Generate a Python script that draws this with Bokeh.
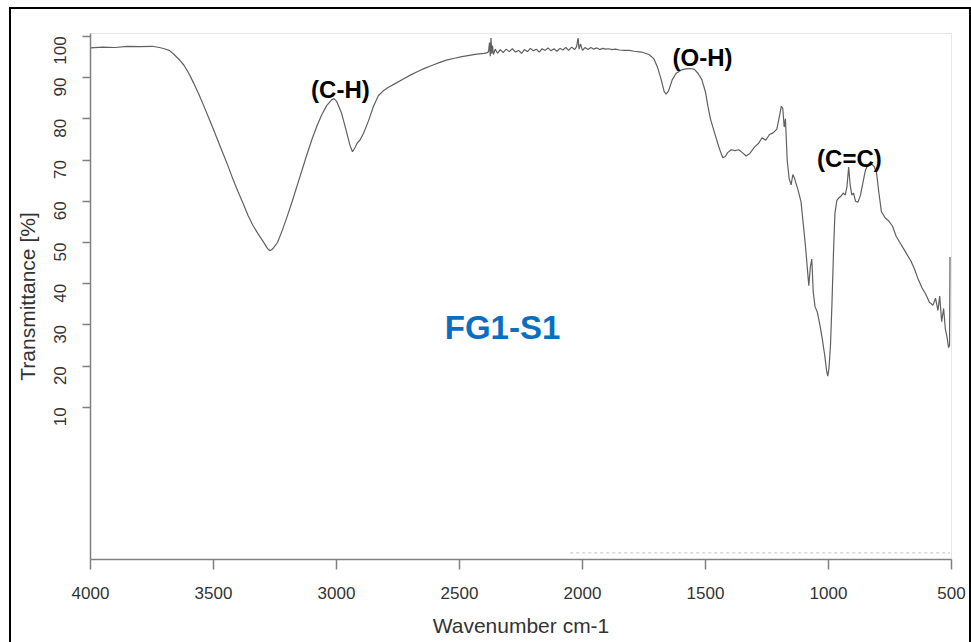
import math
from bokeh.plotting import figure
from bokeh.models import Range1d, FixedTicker, Label, ColumnDataSource
from bokeh.embed import file_html
from bokeh.resources import INLINE

# ---------------- data ----------------
wavenumber = [
    4000, 3950, 3900, 3850, 3800, 3750, 3720, 3700, 3680, 3660, 3640, 3620, 3600,
    3580, 3560, 3540, 3520, 3500, 3480, 3460, 3440, 3420, 3400, 3380, 3360, 3340,
    3320, 3300, 3280, 3270, 3260, 3240, 3220, 3200, 3180, 3160, 3140, 3120, 3100,
    3080, 3060, 3040, 3020, 3010, 3000, 2980, 2960, 2945, 2935, 2925, 2915, 2905,
    2890, 2870, 2850, 2830, 2810, 2790, 2760, 2730, 2700, 2670, 2640, 2610, 2580,
    2550, 2520, 2490, 2460, 2430, 2400, 2390, 2382, 2378, 2375, 2372, 2369, 2366,
    2362, 2355, 2345, 2335, 2322, 2310, 2298, 2285, 2272, 2260, 2248, 2236, 2224,
    2212, 2200, 2188, 2176, 2164, 2152, 2140, 2128, 2116, 2104, 2092, 2080, 2068,
    2056, 2044, 2032, 2024, 2018, 2014, 2008, 2000, 1990, 1978, 1966, 1954, 1942,
    1930, 1918, 1906, 1894, 1880, 1866, 1850, 1830, 1810, 1790, 1760, 1730, 1710,
    1695, 1680, 1668, 1660, 1650, 1635, 1620, 1600, 1580, 1560, 1545, 1530, 1515,
    1500, 1490, 1480, 1470, 1460, 1450, 1440, 1430, 1420, 1410, 1395, 1380, 1365,
    1350, 1335, 1320, 1300, 1285, 1270, 1255, 1240, 1225, 1210, 1200, 1192, 1186,
    1180, 1175, 1168, 1160, 1152, 1145, 1138, 1125, 1112, 1100, 1092, 1085, 1080,
    1074, 1068, 1062, 1055, 1045, 1035, 1025, 1015, 1008, 1003, 998, 992, 986,
    980, 974, 966, 958, 950, 940, 932, 925, 918, 912, 905, 898, 890, 880, 870,
    860, 850, 840, 828, 815, 805, 795, 785, 770, 755, 740, 725, 710, 695, 680,
    665, 650, 635, 620, 605, 590, 575, 565, 555, 548, 540, 532, 525, 518, 512,
    508, 506,
]
transmittance = [
    97.2, 97.4, 97.3, 97.6, 97.5, 97.6, 97.3, 97.0, 96.6, 95.6, 94.4, 93.0, 91.0,
    88.6, 86.0, 83.2, 80.3, 77.4, 74.4, 71.4, 68.4, 65.2, 62.3, 59.5, 56.6, 54.2,
    52.2, 50.4, 48.5, 48.0, 48.4, 50.0, 53.0, 56.4, 60.0, 63.8, 67.6, 71.4, 75.0,
    78.2, 81.0, 83.2, 84.6, 84.9, 84.3, 81.5, 77.0, 73.5, 72.0, 73.0, 74.2, 74.8,
    76.5, 79.5, 83.0, 85.6, 86.8, 87.6, 88.6, 89.6, 90.6, 91.5, 92.3, 93.0, 93.7,
    94.3, 94.7, 95.1, 95.4, 95.7, 95.9, 96.0, 96.3, 98.5, 95.2, 99.6, 95.8, 97.8,
    95.6, 96.9, 95.9, 96.8, 96.1, 96.9, 96.3, 97.0, 96.2, 96.6, 95.9, 96.8, 96.3,
    97.1, 96.5, 96.9, 96.2, 97.0, 96.6, 97.2, 96.5, 97.0, 96.4, 97.1, 96.7, 97.3,
    96.6, 97.4, 96.8, 97.5, 99.6, 96.9, 98.2, 96.6, 97.3, 96.8, 97.3, 96.9, 97.2,
    96.8, 97.1, 96.9, 97.0, 96.8, 96.9, 96.7, 96.6, 96.6, 96.4, 96.2, 95.6, 94.6,
    92.5, 89.5, 86.6, 86.0, 86.8, 89.5, 91.0, 91.8, 92.1, 92.2, 92.0, 91.0, 89.5,
    86.5, 83.0, 80.0, 78.0, 76.0, 74.0, 72.2, 70.6, 70.8, 71.8, 72.5, 72.3, 72.5,
    71.8, 71.0, 71.6, 73.2, 74.0, 75.4, 74.8, 76.2, 76.6, 77.5, 80.5, 83.0, 82.6,
    78.0, 80.0, 70.0, 65.5, 64.0, 66.5, 65.5, 63.0, 60.0, 53.0, 48.0, 43.0, 39.5,
    44.0, 46.0, 38.0, 34.5, 33.0, 30.0, 26.5, 22.5, 19.0, 17.6, 19.5, 25.0, 35.0,
    47.0, 57.0, 60.2, 60.8, 61.2, 62.0, 61.5, 63.5, 68.3, 64.0, 61.5, 62.0, 60.0,
    59.8, 61.5, 64.5, 67.5, 68.8, 69.2, 68.5, 67.0, 62.0, 57.5, 56.0, 55.2, 54.0,
    51.5, 50.0, 48.5, 47.0, 45.5, 43.5, 41.0, 39.0, 37.5, 35.5, 34.8, 36.5, 33.5,
    37.0, 30.8, 34.0, 29.0, 27.0, 24.5, 25.0, 46.5,
]

# faint baseline trace near the bottom of the frame
baseline_wn = [2050, 505]
baseline_t = [-25.3, -25.3]

x_ticks = [4000, 3500, 3000, 2500, 2000, 1500, 1000, 500]
y_ticks = [10, 20, 30, 40, 50, 60, 70, 80, 90, 100]

band_labels = ["(C-H)", "(O-H)", "(C=C)"]
band_label_wn = [2984, 1512, 915]
band_label_t = [87.1, 94.8, 70.4]

sample_name = "FG1-S1"
sample_wn = 2325
sample_t = 29.4

# ---------------- figure ----------------
p = figure(
    width=958, height=633,
    x_range=Range1d(4000, 500), y_range=Range1d(-26.9, 100.7),
    output_backend="svg", toolbar_location=None,
    min_border_left=79, min_border_right=18, min_border_top=24, min_border_bottom=83,
    margin=(9, 0, 0, 11),
    background_fill_color="white", border_fill_color="white",
)
p.styles = {"outline": "2px solid #000000"}
p.outline_line_color = "#e8e8e8"
p.outline_line_width = 1
p.xgrid.visible = False
p.ygrid.visible = False

sans = "Liberation Sans"

for ax in (p.xaxis[0], p.yaxis[0]):
    ax.axis_line_color = "#808080"
    ax.axis_line_width = 1.5
    ax.major_tick_line_color = "#808080"
    ax.major_tick_line_width = 1.5
    ax.major_tick_in = 0
    ax.minor_tick_line_color = None
    ax.major_label_text_font = sans
    ax.major_label_text_font_size = "17px"
    ax.major_label_text_color = "#333333"
    ax.axis_label_text_font = sans
    ax.axis_label_text_font_size = "21px"
    ax.axis_label_text_font_style = "normal"
    ax.axis_label_text_color = "#333333"

p.xaxis.ticker = FixedTicker(ticks=x_ticks)
p.xaxis.major_tick_out = 10
p.xaxis.major_label_standoff = 17
p.xaxis.axis_label = "Wavenumber cm-1"
p.xaxis.axis_label_standoff = 12

p.yaxis.ticker = FixedTicker(ticks=y_ticks)
p.yaxis.major_tick_out = 8
p.yaxis.major_label_standoff = 22
p.yaxis.major_label_orientation = math.pi / 2
p.yaxis.axis_label = "Transmittance [%]"
p.yaxis.axis_label_standoff = 7

src = ColumnDataSource(dict(wn=wavenumber, t=transmittance))
p.line("wn", "t", source=src, line_color="#606060", line_width=1.2)
p.line(baseline_wn, baseline_t, line_color="#c4c4c4", line_width=1, line_dash="3 3")

for txt, xw, yt in zip(band_labels, band_label_wn, band_label_t):
    p.add_layout(Label(x=xw, y=yt, text=txt, text_align="center", text_baseline="middle",
                       text_font="Liberation Sans", text_font_style="bold",
                       text_font_size="24px", text_color="#000000"))

p.add_layout(Label(x=sample_wn, y=sample_t, text=sample_name, text_align="center",
                   text_baseline="middle", text_font="Liberation Sans", text_font_style="bold",
                   text_font_size="33px", text_color="#0a6fc2"))

html = file_html(p, INLINE)
with open("out.html", "w") as f:
    f.write(html)
